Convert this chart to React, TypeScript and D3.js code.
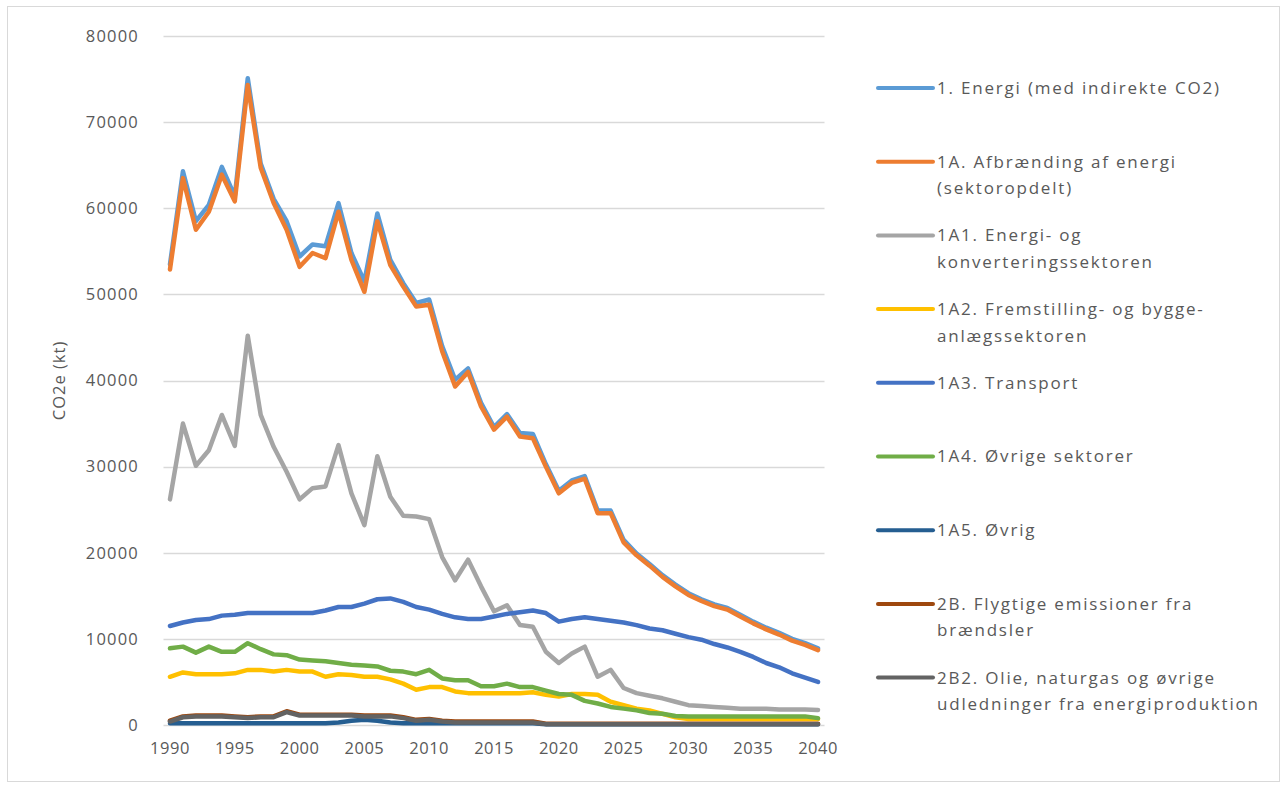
import React, { useEffect, useRef } from "react";
import * as d3 from "d3";

const years = d3.range(1990, 2041);

const seriesNames = [
  "1. Energi (med indirekte CO2)",
  "1A. Afbrænding af energi (sektoropdelt)",
  "1A1. Energi- og konverteringssektoren",
  "1A2. Fremstilling- og bygge- anlægssektoren",
  "1A3. Transport",
  "1A4. Øvrige sektorer",
  "1A5. Øvrig",
  "2B. Flygtige emissioner fra brændsler",
  "2B2. Olie, naturgas og øvrige udledninger fra energiproduktion",
];

const legendLines = [
  ["1. Energi (med indirekte CO2)"],
  ["1A. Afbrænding af energi", "(sektoropdelt)"],
  ["1A1. Energi- og", "konverteringssektoren"],
  ["1A2. Fremstilling- og bygge-", "anlægssektoren"],
  ["1A3. Transport"],
  ["1A4. Øvrige sektorer"],
  ["1A5. Øvrig"],
  ["2B. Flygtige emissioner fra", "brændsler"],
  ["2B2. Olie, naturgas og øvrige", "udledninger fra energiproduktion"],
];

const colors = ["#5B9BD5", "#ED7D31", "#A5A5A5", "#FFC000", "#4472C4", "#70AD47", "#255E91", "#9E480E", "#636363"];

// values in 1000 kt CO2e
const energi = [
  53.5, 64.3, 58.5, 60.4, 64.8, 61.4, 75.1, 65.2, 61.1, 58.5,
  54.4, 55.8, 55.6, 60.6, 54.8, 51.5, 59.4, 54.0, 51.3, 49.0,
  49.4, 44.0, 40.1, 41.4, 37.4, 34.6, 36.1, 33.9, 33.8, 30.3,
  27.2, 28.4, 28.9, 24.9, 24.9, 21.5, 19.9, 18.7, 17.4, 16.3,
  15.3, 14.6, 14.0, 13.6, 12.8, 12.0, 11.3, 10.7, 10.0, 9.5, 8.9,
];
const afbraending = [
  52.9, 63.5, 57.5, 59.6, 63.9, 60.8, 74.3, 64.7, 60.6, 57.5,
  53.2, 54.8, 54.2, 59.6, 54.0, 50.3, 58.5, 53.4, 50.9, 48.6,
  48.8, 43.4, 39.3, 41.0, 37.0, 34.3, 35.8, 33.5, 33.3, 30.0,
  26.9, 28.1, 28.6, 24.6, 24.6, 21.2, 19.7, 18.5, 17.2, 16.1,
  15.1, 14.4, 13.8, 13.4, 12.6, 11.8, 11.1, 10.5, 9.8, 9.3, 8.7,
];
const energiKonv = [
  26.2, 35.0, 30.1, 31.9, 36.0, 32.4, 45.2, 36.0, 32.3, 29.4,
  26.2, 27.5, 27.7, 32.5, 26.9, 23.2, 31.2, 26.5, 24.3, 24.2,
  23.9, 19.5, 16.8, 19.2, 16.1, 13.2, 13.9, 11.6, 11.4, 8.5,
  7.2, 8.3, 9.1, 5.6, 6.4, 4.3, 3.7, 3.4, 3.1, 2.7,
  2.3, 2.2, 2.1, 2.0, 1.9, 1.9, 1.9, 1.8, 1.8, 1.8, 1.75,
];
const fremstilling = [
  5.6, 6.1, 5.9, 5.9, 5.9, 6.0, 6.4, 6.4, 6.2, 6.4,
  6.2, 6.2, 5.6, 5.9, 5.8, 5.6, 5.6, 5.3, 4.8, 4.1,
  4.4, 4.4, 3.9, 3.7, 3.7, 3.7, 3.7, 3.7, 3.8, 3.5,
  3.3, 3.6, 3.6, 3.5, 2.7, 2.3, 1.9, 1.7, 1.3, 0.9,
  0.7, 0.7, 0.7, 0.7, 0.7, 0.7, 0.7, 0.7, 0.7, 0.7, 0.7,
];
const transport = [
  11.5, 11.9, 12.2, 12.3, 12.7, 12.8, 13.0, 13.0, 13.0, 13.0,
  13.0, 13.0, 13.3, 13.7, 13.7, 14.1, 14.6, 14.7, 14.3, 13.7,
  13.4, 12.9, 12.5, 12.3, 12.3, 12.6, 12.9, 13.1, 13.3, 13.0,
  12.0, 12.3, 12.5, 12.3, 12.1, 11.9, 11.6, 11.2, 11.0, 10.6,
  10.2, 9.9, 9.4, 9.0, 8.5, 7.9, 7.2, 6.7, 6.0, 5.5, 5.0,
];
const oevrigeSektorer = [
  8.9, 9.1, 8.4, 9.1, 8.5, 8.5, 9.5, 8.8, 8.2, 8.1,
  7.6, 7.5, 7.4, 7.2, 7.0, 6.9, 6.8, 6.3, 6.2, 5.9,
  6.4, 5.4, 5.2, 5.2, 4.5, 4.5, 4.8, 4.4, 4.4, 4.0,
  3.6, 3.5, 2.8, 2.5, 2.1, 1.9, 1.7, 1.4, 1.3, 1.05,
  1.0, 1.0, 1.0, 1.0, 1.0, 1.0, 1.0, 1.0, 1.0, 1.0, 0.8,
];
const oevrig = [
  0.2, 0.2, 0.2, 0.2, 0.2, 0.2, 0.2, 0.2, 0.2, 0.2,
  0.2, 0.2, 0.2, 0.3, 0.5, 0.6, 0.5, 0.3, 0.2, 0.2,
  0.2, 0.2, 0.2, 0.2, 0.2, 0.2, 0.2, 0.2, 0.2, 0.1,
  0.1, 0.1, 0.1, 0.1, 0.1, 0.1, 0.1, 0.1, 0.1, 0.1,
  0.1, 0.1, 0.1, 0.1, 0.1, 0.1, 0.1, 0.1, 0.1, 0.1, 0.1,
];
const flygtige = [
  0.5, 1.0, 1.1, 1.1, 1.1, 1.0, 0.9, 1.0, 1.0, 1.6,
  1.2, 1.2, 1.2, 1.2, 1.2, 1.1, 1.1, 1.1, 0.9, 0.6,
  0.7, 0.5, 0.4, 0.4, 0.4, 0.4, 0.4, 0.4, 0.4, 0.15,
  0.15, 0.15, 0.15, 0.15, 0.15, 0.15, 0.15, 0.15, 0.15, 0.15,
  0.15, 0.15, 0.15, 0.15, 0.15, 0.15, 0.15, 0.15, 0.15, 0.15, 0.15,
];
const olieNaturgas = [
  0.4, 0.9, 1.0, 1.0, 1.0, 0.9, 0.8, 0.9, 0.9, 1.5,
  1.1, 1.1, 1.1, 1.1, 1.1, 1.0, 1.0, 1.0, 0.8, 0.5,
  0.6, 0.4, 0.3, 0.3, 0.3, 0.3, 0.3, 0.3, 0.3, 0.1,
  0.1, 0.1, 0.1, 0.1, 0.1, 0.1, 0.1, 0.1, 0.1, 0.1,
  0.1, 0.1, 0.1, 0.1, 0.1, 0.1, 0.1, 0.1, 0.1, 0.1, 0.1,
];

const allSeries = [energi, afbraending, energiKonv, fremstilling, transport, oevrigeSektorer, oevrig, flygtige, olieNaturgas];

const yTicks = [0, 10000, 20000, 30000, 40000, 50000, 60000, 70000, 80000];
const xTickYears = [1990, 1995, 2000, 2005, 2010, 2015, 2020, 2025, 2030, 2035, 2040];

const FONT = "'Open Sans', 'Liberation Sans', sans-serif";
const TEXT = "#595959";

export default function App() {
  const svgRef = useRef<SVGSVGElement>(null);
  const width = 1287;
  const height = 785;

  useEffect(() => {
    if (!svgRef.current) return;
    const svg = d3.select(svgRef.current);
    svg.selectAll("*").remove();

    // outer frame
    svg.append("rect")
      .attr("x", 7.5).attr("y", 6.5)
      .attr("width", 1272).attr("height", 775)
      .attr("fill", "#fff").attr("stroke", "#d9d9d9");

    const x = d3.scalePoint<number>().domain(years).range([163.5, 824.5]).padding(0.5);
    const y = d3.scaleLinear().domain([0, 80000]).range([725, 36]);

    // gridlines
    svg.append("g")
      .selectAll("line")
      .data(yTicks)
      .enter().append("line")
      .attr("x1", 163.5).attr("x2", 824.5)
      .attr("y1", d => Math.round(y(d)) + 0.5)
      .attr("y2", d => Math.round(y(d)) + 0.5)
      .attr("stroke", "#d9d9d9").attr("stroke-width", 1.5);

    // y labels
    svg.append("g")
      .selectAll("text")
      .data(yTicks)
      .enter().append("text")
      .attr("x", 139).attr("y", d => y(d))
      .attr("dy", "0.35em")
      .attr("text-anchor", "end")
      .attr("font-family", FONT).attr("font-size", 16.5)
      .attr("letter-spacing", 1.2)
      .attr("fill", TEXT)
      .text(d => String(d));

    // x labels
    svg.append("g")
      .selectAll("text")
      .data(xTickYears)
      .enter().append("text")
      .attr("x", d => x(d) as number).attr("y", 754)
      .attr("text-anchor", "middle")
      .attr("font-family", FONT).attr("font-size", 16.5)
      .attr("letter-spacing", 0.5)
      .attr("fill", TEXT)
      .text(d => String(d));

    // y title
    svg.append("text")
      .attr("transform", `translate(65,${(y(0) + y(80000)) / 2}) rotate(-90)`)
      .attr("text-anchor", "middle")
      .attr("font-family", FONT).attr("font-size", 16.5)
      .attr("letter-spacing", 1)
      .attr("fill", TEXT)
      .text("CO2e (kt)");

    const line = d3.line<number>()
      .x((_, i) => x(years[i]) as number)
      .y(d => y(d * 1000));

    allSeries.forEach((vals, i) => {
      svg.append("path")
        .datum(vals)
        .attr("d", line)
        .attr("fill", "none")
        .attr("stroke", colors[i])
        .attr("stroke-width", 4.5)
        .attr("stroke-linejoin", "round")
        .attr("stroke-linecap", "round");
    });

    // legend
    const legend = svg.append("g");
    seriesNames.forEach((name, i) => {
      const ly = 88 + i * 73.7;
      const item = legend.append("g").attr("data-name", name);
      item.append("line")
        .attr("x1", 878).attr("x2", 933)
        .attr("y1", ly).attr("y2", ly)
        .attr("stroke", colors[i]).attr("stroke-width", 4)
        .attr("stroke-linecap", "round");
      legendLines[i].forEach((t, j) => {
        item.append("text")
          .attr("x", 937).attr("y", ly + j * 26.5)
          .attr("dy", "0.35em")
          .attr("font-family", FONT).attr("font-size", 17)
          .attr("letter-spacing", 1.8)
          .attr("fill", TEXT)
          .text(t);
      });
    });
  }, []);

  return (
    <svg
      ref={svgRef}
      width={width}
      height={height}
      viewBox={`0 0 ${width} ${height}`}
      style={{ position: "absolute", left: 0, top: 0, background: "#fff" }}
    />
  );
}
